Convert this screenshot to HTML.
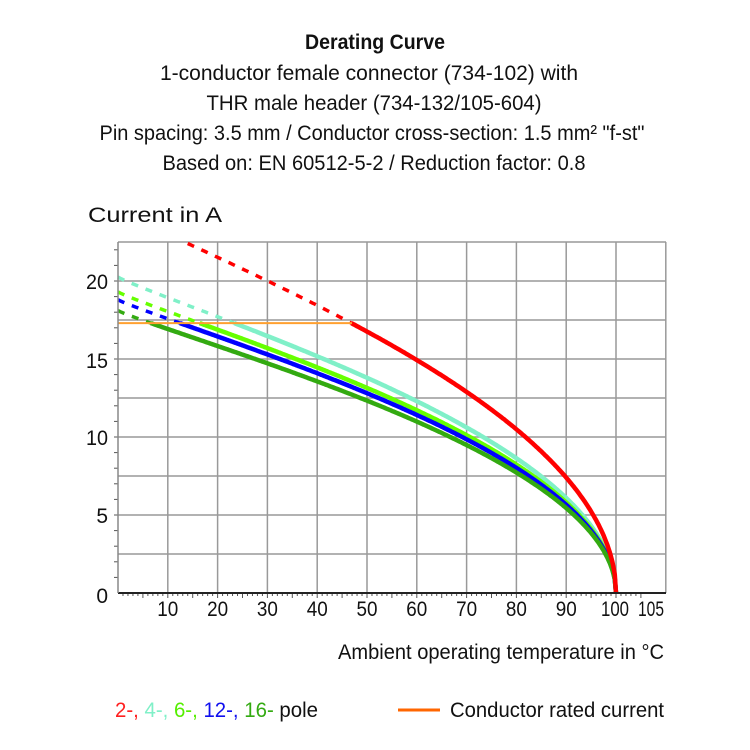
<!DOCTYPE html>
<html><head><meta charset="utf-8"><style>
html,body{margin:0;padding:0;background:#fff;}
svg{display:block;font-family:"Liberation Sans",sans-serif;}
</style></head><body>
<svg id="s" width="750" height="750" viewBox="0 0 750 750" xmlns="http://www.w3.org/2000/svg">
<g font-size="21" fill="#111" text-anchor="middle">
<text x="375" y="49" font-weight="bold" textLength="140" lengthAdjust="spacingAndGlyphs">Derating Curve</text>
<text x="369" y="80" textLength="418" lengthAdjust="spacingAndGlyphs">1-conductor female connector (734-102) with</text>
<text x="374" y="110" textLength="335" lengthAdjust="spacingAndGlyphs">THR male header (734-132/105-604)</text>
<text x="372" y="140" textLength="545" lengthAdjust="spacingAndGlyphs">Pin spacing: 3.5 mm / Conductor cross-section: 1.5 mm² "f-st"</text>
<text x="374" y="170" textLength="423" lengthAdjust="spacingAndGlyphs">Based on: EN 60512-5-2 / Reduction factor: 0.8</text>
</g>
<text x="88" y="222" font-size="21" fill="#111" textLength="134" lengthAdjust="spacingAndGlyphs">Current in A</text>
<g id="grid" stroke="#999" stroke-width="1.5"></g>
<g id="ticks" stroke="#555" stroke-width="1"></g>
<g id="curves" fill="none" stroke-width="4"></g>
<line x1="118" y1="593" x2="666" y2="593" stroke="#222" stroke-width="2"/>
<line x1="118" y1="242" x2="118" y2="593" stroke="#888" stroke-width="1.5"/>
<g font-size="21" fill="#111" text-anchor="end">
<text x="108" y="289" textLength="22" lengthAdjust="spacingAndGlyphs">20</text><text x="108" y="368" textLength="22" lengthAdjust="spacingAndGlyphs">15</text><text x="108" y="445" textLength="22" lengthAdjust="spacingAndGlyphs">10</text><text x="108" y="523">5</text><text x="108" y="603">0</text>
</g>
<g id="xl" font-size="21" fill="#111" text-anchor="middle"></g>
<text x="338" y="659" font-size="21" fill="#111" textLength="326" lengthAdjust="spacingAndGlyphs">Ambient operating temperature in °C</text>
<text x="115" y="717" font-size="21" textLength="203" lengthAdjust="spacingAndGlyphs"><tspan fill="#ff2020">2-, </tspan><tspan fill="#80f0c8">4-, </tspan><tspan fill="#55ee00">6-, </tspan><tspan fill="#1010ee">12-, </tspan><tspan fill="#33aa11">16- </tspan><tspan fill="#111">pole</tspan></text>
<line x1="398" y1="710" x2="440" y2="710" stroke="#ff6600" stroke-width="3"/>
<text x="450" y="717" font-size="21" fill="#111" textLength="214" lengthAdjust="spacingAndGlyphs">Conductor rated current</text>
</svg>
<script>
var NS="http://www.w3.org/2000/svg";
function el(p,t,a){var e=document.createElementNS(NS,t);for(var k in a)e.setAttribute(k,a[k]);document.getElementById(p).appendChild(e);return e;}
function X(T){return 118+T*4.98;}
function Y(I){return 593-I*15.6;}
for(var i=1;i<=11;i++){var x=118+i*49.8;el("grid","line",{x1:x,y1:242,x2:x,y2:593});}
for(var j=1;j<=9;j++){var y=593-j*39;el("grid","line",{x1:118,y1:y,x2:666,y2:y});}
for(var t=1;t<=105;t++){el("ticks","line",{x1:X(t),y1:593,x2:X(t),y2:t%5?596:598});}
for(var a=1;a<=22;a++){el("ticks","line",{x1:114,y1:Y(a),x2:118,y2:Y(a)});}
[10,20,30,40,50,60,70,80,90,100].forEach(function(v){var e=el("xl","text",{x:v==100?X(v)-1:X(v),y:616,textLength:v==100?28:21,lengthAdjust:"spacingAndGlyphs"});e.textContent=v;});
var e=el("xl","text",{x:651,y:616,textLength:26,lengthAdjust:"spacingAndGlyphs"});e.textContent="105";
function f(I0,T){var r=1-Math.pow(T/100,0.9);return r<=0?0:I0*Math.sqrt(r);}
var cs=[[20.25,"#80f0c8",0],[19.3,"#66ff00",0],[18.8,"#0000ff",0],[18.1,"#33aa11",0],[24.6,"#ff0000",14]];
var rated=17.3;
cs.forEach(function(c){
 var I0=c[0],col=c[1],t0=c[2],d="",s="",T;
 var tc=100*Math.pow(1-Math.pow(rated/I0,2),1/0.9);
 for(T=t0;T<=tc;T+=0.5){d+=(d?"L":"M")+X(T).toFixed(1)+","+Y(f(I0,T)).toFixed(1);}
 d+="L"+X(tc).toFixed(1)+","+Y(rated).toFixed(1);
 el("curves","path",{d:d,stroke:col,"stroke-width":3.5,"stroke-dasharray":"7,8"});
 s="M"+X(tc).toFixed(1)+","+Y(rated).toFixed(1);
 for(T=Math.ceil(tc);T<100;T+=0.25){s+="L"+X(T).toFixed(1)+","+Y(f(I0,T)).toFixed(1);}
 s+="L"+X(100).toFixed(1)+","+Y(0);
 el("curves","path",{d:s,stroke:col,"stroke-width":4.5});
});
el("curves","line",{x1:118,y1:Y(rated),x2:352,y2:Y(rated),stroke:"#ffa030","stroke-width":2});
</script>
</body></html>
